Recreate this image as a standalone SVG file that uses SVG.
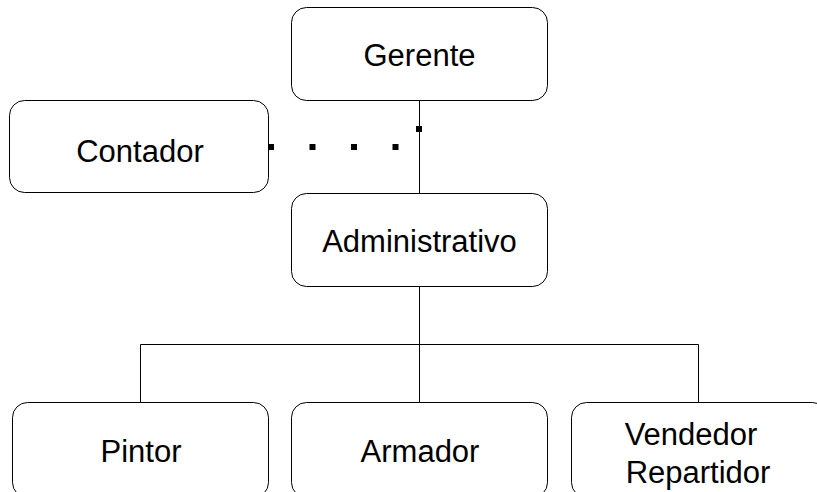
<svg xmlns="http://www.w3.org/2000/svg" width="817" height="492" viewBox="0 0 817 492">
<style>
.box{fill:#fff;stroke:#000;stroke-width:1}
.lbl{font-family:"Liberation Sans",Arial,sans-serif;font-size:31px;fill:#000;text-anchor:middle}
.ln{fill:none;stroke:#000;stroke-width:1}
.dot{fill:none;stroke:#000;stroke-width:6;stroke-dasharray:6 35.5}
</style>
<rect width="817" height="492" fill="#fff"/>
<g id="connectors">
<line class="ln" x1="419.5" y1="100" x2="419.5" y2="193"/>
<line class="ln" x1="419.5" y1="286" x2="419.5" y2="344.5"/>
<polyline class="ln" points="140.5,402 140.5,344.5 698.5,344.5 698.5,402"/>
<line class="ln" x1="419.5" y1="344.5" x2="419.5" y2="402"/>
<polyline class="dot" points="419,126 419,147 268,147"/>
</g>
<g id="gerente">
<rect class="box" x="291.5" y="7.5" width="256" height="93" rx="15"/>
<text class="lbl" x="419.5" y="66">Gerente</text>
</g>
<g id="contador">
<rect class="box" x="9.5" y="100.5" width="259" height="92" rx="15"/>
<text class="lbl" x="140" y="162">Contador</text>
</g>
<g id="administrativo">
<rect class="box" x="291.5" y="193.5" width="256" height="93" rx="15"/>
<text class="lbl" x="419.5" y="252">Administrativo</text>
</g>
<g id="pintor">
<rect class="box" x="12.5" y="402.5" width="256" height="95" rx="15"/>
<text class="lbl" x="141" y="462">Pintor</text>
</g>
<g id="armador">
<rect class="box" x="291.5" y="402.5" width="256" height="95" rx="15"/>
<text class="lbl" x="420" y="462">Armador</text>
</g>
<g id="vendedor">
<rect class="box" x="571.5" y="402.5" width="256" height="95" rx="15"/>
<text class="lbl" x="691" y="445">Vendedor</text>
<text class="lbl" x="698" y="483">Repartidor</text>
</g>
</svg>
